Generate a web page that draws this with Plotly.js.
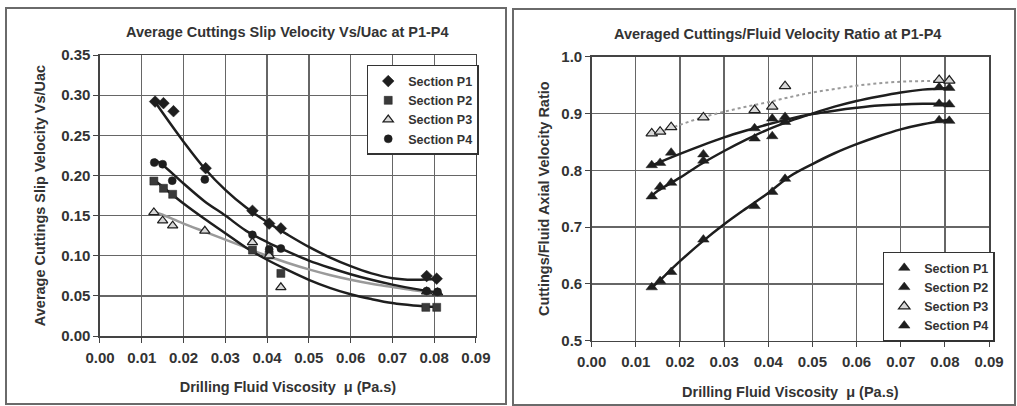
<!DOCTYPE html>
<html>
<head>
<meta charset="utf-8">
<script src="https://cdn.plot.ly/plotly-3.0.1.min.js"></script>
<style>html,body{margin:0;padding:0;background:#fff;}#chart{width:1017px;height:406px;}</style>
</head>
<body>
<div id="chart"></div>
<script>
// ---------- Left chart: Average Cuttings Slip Velocity Vs/Uac ----------
const slipP1X = [0.0132, 0.0152, 0.0176, 0.0253, 0.0365, 0.0405, 0.0433, 0.0782, 0.0806];
const slipP1Y = [0.292, 0.290, 0.280, 0.209, 0.156, 0.140, 0.134, 0.0747, 0.0714];
const slipP2X = [0.0129, 0.0152, 0.0174, 0.0365, 0.0405, 0.0433, 0.0780, 0.0806];
const slipP2Y = [0.193, 0.184, 0.1765, 0.107, 0.101, 0.078, 0.0357, 0.0357];
const slipP3X = [0.0129, 0.0150, 0.0174, 0.0251, 0.0365, 0.0405, 0.0433, 0.0782, 0.0808];
const slipP3Y = [0.154, 0.1437, 0.1375, 0.131, 0.1167, 0.100, 0.0606, 0.0552, 0.054];
const slipP4X = [0.0130, 0.0150, 0.0173, 0.0251, 0.0365, 0.0405, 0.0433, 0.0782, 0.0808];
const slipP4Y = [0.216, 0.214, 0.1935, 0.195, 0.126, 0.108, 0.109, 0.056, 0.055];

// trendlines
const slipTrendX = [0.013, 0.015, 0.02, 0.025, 0.03, 0.035, 0.04, 0.045, 0.05, 0.055, 0.06, 0.065, 0.07, 0.075, 0.081];
const slipTrendP1 = [0.293, 0.278, 0.242, 0.209, 0.182, 0.160, 0.142, 0.126, 0.111, 0.098, 0.087, 0.078, 0.072, 0.070, 0.071];
const slipTrendP2 = [0.194, 0.186, 0.165, 0.146, 0.128, 0.110, 0.095, 0.082, 0.070, 0.060, 0.052, 0.046, 0.041, 0.038, 0.036];
const slipTrendP3 = [0.155, 0.151, 0.140, 0.130, 0.120, 0.110, 0.100, 0.091, 0.083, 0.076, 0.070, 0.065, 0.061, 0.057, 0.053];
const slipTrendP4 = [0.220, 0.213, 0.190, 0.168, 0.150, 0.131, 0.117, 0.105, 0.094, 0.085, 0.077, 0.070, 0.064, 0.059, 0.054];

// ---------- Right chart: Averaged Cuttings/Fluid Velocity Ratio ----------
const ratioX = [0.0136, 0.0155, 0.0180, 0.0253, 0.0369, 0.0409, 0.0438, 0.0787, 0.0810];
const ratioP1 = [0.594, 0.605, 0.621, 0.678, 0.737, 0.762, 0.785, 0.888, 0.887];
const ratioP2 = [0.754, 0.771, 0.778, 0.817, 0.856, 0.860, 0.885, 0.946, 0.945];
const ratioP3 = [0.865, 0.868, 0.876, 0.893, 0.906, 0.912, 0.948, 0.959, 0.958];
const ratioP4 = [0.809, 0.813, 0.831, 0.828, 0.874, 0.891, 0.894, 0.917, 0.916];

const ratioTrendX = [0.0136, 0.015, 0.02, 0.025, 0.03, 0.035, 0.04, 0.045, 0.05, 0.055, 0.06, 0.065, 0.07, 0.075, 0.081];
const ratioTrendP1 = [0.593, 0.603, 0.640, 0.674, 0.705, 0.733, 0.760, 0.790, 0.811, 0.830, 0.846, 0.860, 0.872, 0.881, 0.889];
const ratioTrendP2 = [0.755, 0.764, 0.787, 0.812, 0.834, 0.854, 0.872, 0.887, 0.900, 0.912, 0.922, 0.930, 0.937, 0.942, 0.945];
const ratioTrendP3 = [0.862, 0.866, 0.880, 0.893, 0.903, 0.912, 0.920, 0.929, 0.937, 0.943, 0.949, 0.953, 0.956, 0.957, 0.958];
const ratioTrendP4 = [0.808, 0.813, 0.829, 0.844, 0.858, 0.870, 0.881, 0.891, 0.899, 0.905, 0.910, 0.914, 0.916, 0.917, 0.917];

const seriesNames = ['Section P1', 'Section P2', 'Section P3', 'Section P4'];

const FONT = 'Liberation Sans, Arial, sans-serif';
const DARK = '#1e1e1e';
const GRAYFILL = '#d8d8d8';
const GRAYLINE = '#9a9a9a';

function trend(x, y, xa, ya, color, width, dash) {
  return {x: x, y: y, xaxis: xa, yaxis: ya, mode: 'lines', type: 'scatter',
    line: {color: color, width: width, shape: 'spline', smoothing: 1, dash: dash || 'solid'},
    showlegend: false, hoverinfo: 'skip'};
}
function pts(x, y, xa, ya, name, symbol, fill, legend, size) {
  return {x: x, y: y, xaxis: xa, yaxis: ya, mode: 'markers', type: 'scatter', name: name,
    legend: legend,
    marker: {symbol: symbol, size: size, color: fill, line: {color: DARK, width: fill === GRAYFILL ? 1.2 : 0.5}}};
}

const data = [
  trend(slipTrendX, slipTrendP3, 'x', 'y', GRAYLINE, 2.5),
  trend(slipTrendX, slipTrendP1, 'x', 'y', DARK, 2.5),
  trend(slipTrendX, slipTrendP2, 'x', 'y', DARK, 2.5),
  trend(slipTrendX, slipTrendP4, 'x', 'y', DARK, 2.5),
  pts(slipP1X, slipP1Y, 'x', 'y', seriesNames[0], 'diamond', DARK, 'legend', 9),
  pts(slipP2X, slipP2Y, 'x', 'y', seriesNames[1], 'square', '#3a3a3a', 'legend', 8),
  pts(slipP3X, slipP3Y, 'x', 'y', seriesNames[2], 'triangle-up', GRAYFILL, 'legend', 9),
  pts(slipP4X, slipP4Y, 'x', 'y', seriesNames[3], 'circle', DARK, 'legend', 8),

  trend(ratioTrendX, ratioTrendP3, 'x2', 'y2', GRAYLINE, 2, 'dot'),
  trend(ratioTrendX, ratioTrendP1, 'x2', 'y2', DARK, 2.5),
  trend(ratioTrendX, ratioTrendP2, 'x2', 'y2', DARK, 2.5),
  trend(ratioTrendX, ratioTrendP4, 'x2', 'y2', DARK, 2.5),
  pts(ratioX, ratioP1, 'x2', 'y2', seriesNames[0], 'triangle-up', DARK, 'legend2', 10),
  pts(ratioX, ratioP2, 'x2', 'y2', seriesNames[1], 'triangle-up', DARK, 'legend2', 10),
  pts(ratioX, ratioP3, 'x2', 'y2', seriesNames[2], 'triangle-up', GRAYFILL, 'legend2', 10),
  pts(ratioX, ratioP4, 'x2', 'y2', seriesNames[3], 'triangle-up', DARK, 'legend2', 10)
];

const tickFont = {family: FONT, size: 15, color: '#333', weight: 'bold'};
const titleFont = {family: FONT, size: 14.5, color: '#333', weight: 'bold'};
const legendFont = {family: FONT, size: 12.5, color: '#333', weight: 'bold'};

function xAxis(domain, anchor) {
  return {domain: domain, anchor: anchor, range: [0, 0.09], dtick: 0.01, tick0: 0, tickformat: '.2f',
    showgrid: true, gridcolor: '#666', gridwidth: 1.3, zeroline: false,
    showline: true, linecolor: '#444', linewidth: 1.5, mirror: true,
    ticks: 'outside', ticklen: 5, tickcolor: '#444', tickfont: tickFont, ticklabelstandoff: 2,
    title: {text: 'Drilling Fluid Viscosity  \u03bc (Pa.s)', font: titleFont, standoff: 17},
    automargin: false, fixedrange: true};
}
function yAxis(domain, anchor, range, dtick, fmt, title, standoff) {
  return {domain: domain, anchor: anchor, range: range, dtick: dtick, tickformat: fmt,
    showgrid: true, gridcolor: '#666', gridwidth: 1.3, zeroline: false,
    showline: true, linecolor: '#444', linewidth: 1.5, mirror: true,
    ticks: 'outside', ticklen: 5, tickcolor: '#444', tickfont: tickFont,
    title: {text: title, font: titleFont, standoff: standoff},
    automargin: false, fixedrange: true};
}

const layout = {
  width: 1017, height: 406,
  margin: {l: 0, r: 0, t: 0, b: 0},
  paper_bgcolor: '#ffffff', plot_bgcolor: '#ffffff',
  font: {family: FONT, color: '#333'},
  xaxis: xAxis([0.0983, 0.468], 'y'),
  yaxis: yAxis([0.1724, 0.8645], 'x', [0, 0.35], 0.05, '.2f', 'Average Cuttings Slip Velocity Vs/Uac', 12),
  xaxis2: xAxis([0.5818, 0.9725], 'y2'),
  yaxis2: yAxis([0.1608, 0.8604], 'x2', [0.5, 1.0], 0.1, '.1f', 'Cuttings/Fluid Axial Velocity Ratio', 8),
  legend: {x: 0.3606, y: 0.84, xanchor: 'left', yanchor: 'top', bgcolor: '#fff',
    bordercolor: '#333', borderwidth: 1.5, font: legendFont,
    itemwidth: 30, tracegroupgap: 0},
  legend2: {x: 0.868, y: 0.38, xanchor: 'left', yanchor: 'top', bgcolor: '#fff',
    bordercolor: '#333', borderwidth: 1.5, font: legendFont,
    itemwidth: 30, tracegroupgap: 0},
  annotations: [
    {text: 'Average Cuttings Slip Velocity Vs/Uac at P1-P4', xref: 'paper', yref: 'paper',
      x: 287 / 1017, y: 1 - 32 / 406, xanchor: 'center', yanchor: 'middle', showarrow: false,
      font: titleFont},
    {text: 'Averaged Cuttings/Fluid Velocity Ratio at P1-P4', xref: 'paper', yref: 'paper',
      x: 777 / 1017, y: 1 - 34 / 406, xanchor: 'center', yanchor: 'middle', showarrow: false,
      font: titleFont}
  ],
  shapes: [
    {type: 'rect', xref: 'paper', yref: 'paper', x0: 6 / 1017, x1: 506 / 1017, y0: 1 - 404 / 406, y1: 1 - 8 / 406,
      line: {color: '#6a6a6a', width: 2}},
    {type: 'rect', xref: 'paper', yref: 'paper', x0: 513 / 1017, x1: 1015 / 1017, y0: 1 - 405 / 406, y1: 1 - 9 / 406,
      line: {color: '#6a6a6a', width: 2}}
  ]
};

Plotly.newPlot('chart', data, layout, {staticPlot: true, displayModeBar: false});
</script>
</body>
</html>
